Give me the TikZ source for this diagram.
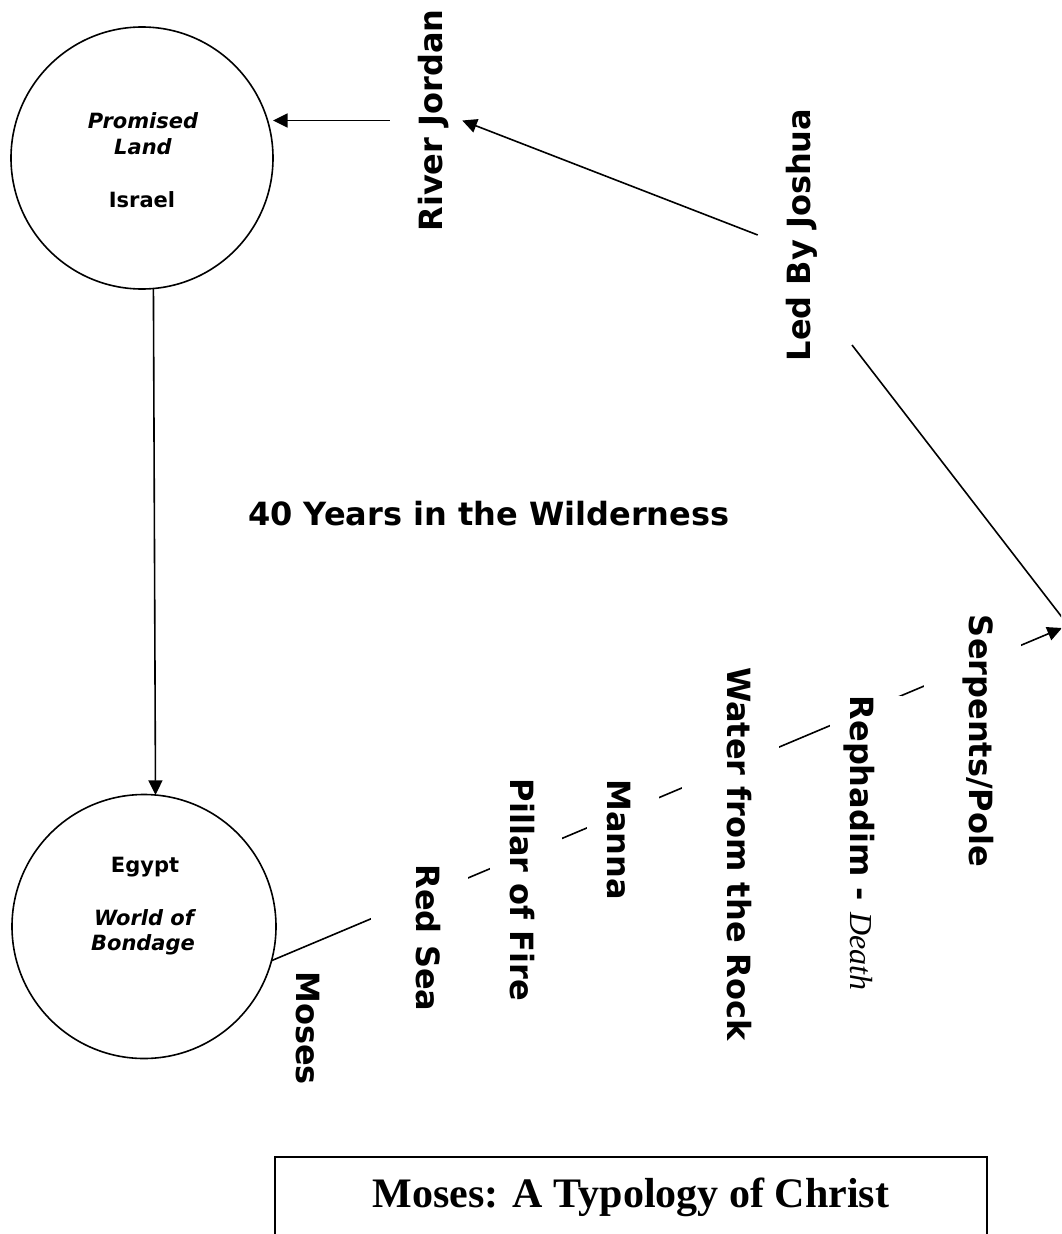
\documentclass[tikz,border=0pt]{standalone}
\usepackage{fontspec}
\setmainfont{DejaVu Sans}
\newfontfamily\tnr{Liberation Serif}
\usetikzlibrary{arrows.meta}
\begin{document}
\begin{tikzpicture}[x=0.75pt, y=-0.75pt,
  conn/.style={line width=1.2pt},
  arr/.style={conn, -{Triangle[length=11pt,width=10.5pt]}},
  ring/.style={circle, draw, line width=1.2pt, inner sep=0pt, outer sep=0pt},
  lblsmall/.style={font=\fontsize{15.75}{19}\selectfont\bfseries, inner sep=0pt, anchor=base},
  bigfont/.style={font=\fontsize{24}{28}\selectfont\bfseries},
  lblbig/.style={bigfont, inner xsep=0pt, inner ysep=0pt, text height=39pt, text depth=15pt, anchor=base},
  lblwide/.style={lblbig, text depth=33.75pt},
  blank/.style={fill=white},
  titlebox/.style={draw, line width=1.5pt, font=\tnr\bfseries\fontsize{31.5}{36}\selectfont,
    minimum width=534pt, inner sep=0pt, text height=37.5pt, text depth=45pt, anchor=base}
]
\useasboundingbox (0,0) rectangle (1061,1234);
\clip (0,0) rectangle (1061,1234);

% circles
\node[ring, minimum size=196.5pt] (israel) at (142,158) {};
\node[ring, minimum size=198pt] (egypt) at (144,926.5) {};

% circle texts
\node[lblsmall] (promised) at (143,129) {\itshape Promised};
\node[lblsmall] (land) at (143,155) {\itshape Land};
\node[lblsmall] (israeltxt) at (142,207) {Israel};
\node[lblsmall] (egypttxt) at (145,872) {Egypt};
\node[lblsmall] (worldof) at (144,925) {\itshape World of};
\node[lblsmall] (bondage) at (143,950) {\itshape Bondage};

% middle caption
\node[bigfont, inner sep=0pt, anchor=base west] (years) at (248,525) {40 Years in the Wilderness};

% free ends
\coordinate (tipB) at (1062,628);
\coordinate (jstart) at (852,345);
\coordinate (endA) at (1078,638);

% connectors
\draw[arr] (israel.-85) -- (egypt.85);
\draw[arr] (egypt.-15) -- (tipB);
\draw[conn] (jstart) -- (endA);

% labels along the journey
\node[lblwide, blank, rotate=-90] (redsea) at (416,938) {Red Sea};
\node[lblbig, blank, rotate=-90] (pillar) at (510,890) {Pillar of Fire};
\node[lblbig, blank, rotate=-90] (manna) at (607,839.5) {Manna};
\node[lblwide, blank, rotate=-90] (water) at (727,854) {Water from the Rock};
\node[lblbig, blank, rotate=-90] (rephadim) at (850,843) {Rephadim - {\tnr\mdseries\itshape Death}};
\node[lblwide, blank, rotate=-90] (serpents) at (969,741) {Serpents/Pole};
\node[lblbig, rotate=-90] (moses) at (296,1028) {Moses};
\node[lblbig, rotate=90] (jordan) at (442,120.5) {River Jordan};
\node[lblbig, rotate=90] (joshua) at (810,235) {Led By Joshua};

\draw[arr] (jordan.north) -- (jordan.north -| israel.east);
\draw[arr] (joshua.north) -- (jordan.south);

% title
\node[titlebox] (title) at (631,1207) {Moses: A Typology of Christ};
\end{tikzpicture}
\end{document}
